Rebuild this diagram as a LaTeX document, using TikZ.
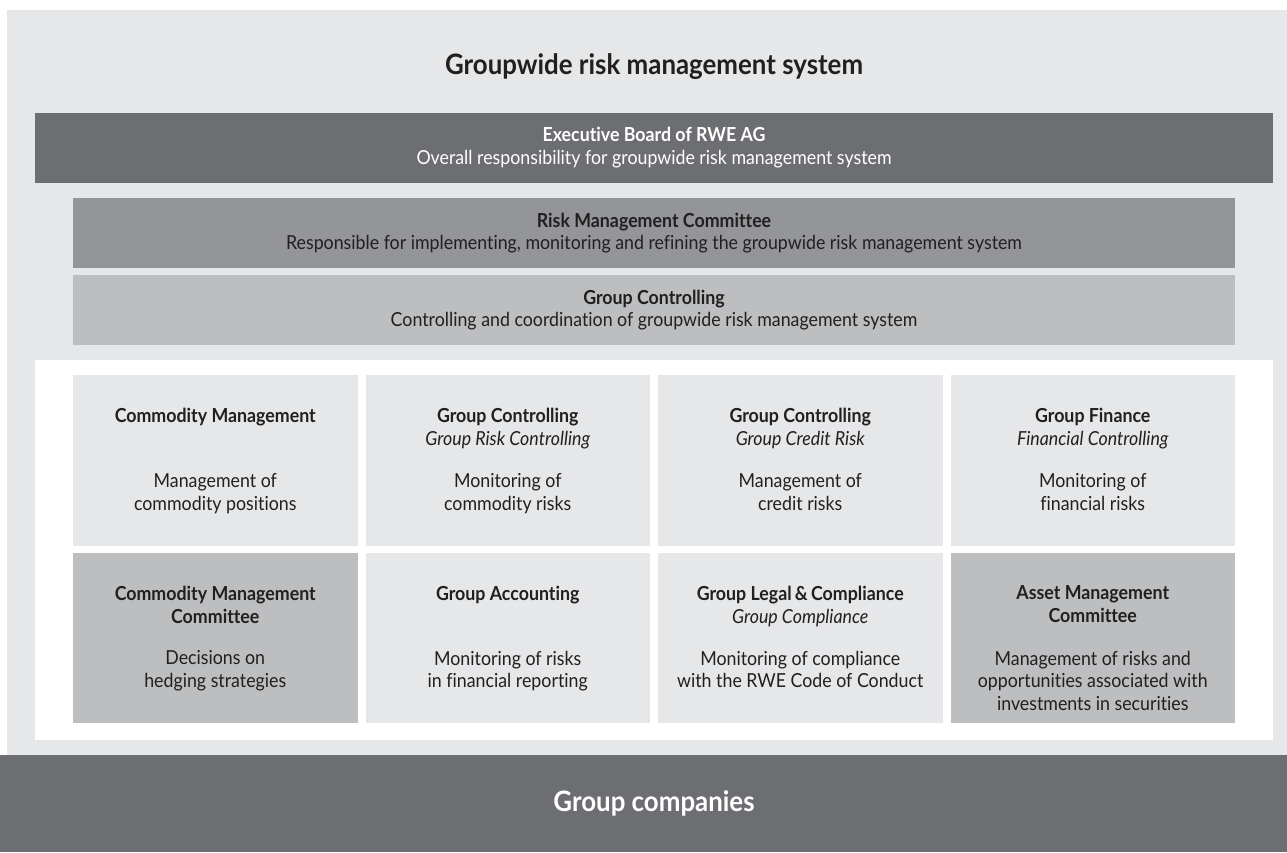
\documentclass[tikz,border=0pt]{standalone}
\usepackage{fontspec}
\setmainfont{Lato}[FakeStretch=0.92, Ligatures=NoCommon]
\usepackage{tikz}

\definecolor{bglight}{HTML}{E6E7E8}
\definecolor{bgdark}{HTML}{6D6E71}
\definecolor{bgmid}{HTML}{939598}
\definecolor{bgpale}{HTML}{BCBEC0}
\definecolor{ink}{HTML}{231F20}

\tikzset{
  bartext/.style={align=center, inner sep=0pt, text=ink, font=\fontsize{11}{13}\selectfont},
  cellhead/.style={align=center, anchor=north, inner sep=0pt, text=ink, font=\fontsize{11}{13}\selectfont\bfseries},
  celldesc/.style={align=center, anchor=north, inner sep=0pt, text=ink, font=\fontsize{11}{13}\selectfont},
}

% one box of the grid: x, y (top left), fill, name, heading, description
\newcommand{\riskcell}[6]{%
  \fill[#3] (#1,#2) rectangle ++(284.5,170.5);
  \path (#1,#2) ++(142.25,33) node[cellhead] (#4-head) {#5};
  \path (#1,#2) ++(142.25,98) node[celldesc] (#4-desc) {#6};
}

\begin{document}
\begin{tikzpicture}[x=0.02cm, y=-0.02cm]
  \useasboundingbox (0,0) rectangle (1287,852);

  % background
  \fill[bglight] (7,10) rectangle (1287,755);
  \node[bartext, font=\fontsize{16}{19}\selectfont\bfseries] (title) at (654,67) {Groupwide risk management system};

  % Bar 1
  \fill[bgdark] (35,113) rectangle (1273,183);
  \node[bartext, text=white] (exec) at (654,148) {\textbf{Executive Board of RWE AG}\\Overall responsibility for groupwide risk management system};

  % Bar 2
  \fill[bgmid] (73,198) rectangle (1235,268);
  \node[bartext] (rmc) at (654,233) {\textbf{Risk Management Committee}\\Responsible for implementing, monitoring and refining the groupwide risk management system};

  % Bar 3
  \fill[bgpale] (73,275) rectangle (1235,345);
  \node[bartext] (gc) at (654,310) {\textbf{Group Controlling}\\Controlling and coordination of groupwide risk management system};

  % grid
  \fill[white] (35,360) rectangle (1273,740);

  \riskcell{73}{375}{bglight}{cm}{Commodity Management}{Management of\\commodity positions}
  \riskcell{365.5}{375}{bglight}{grc}{Group Controlling\\\normalfont\itshape Group Risk Controlling}{Monitoring of\\commodity risks}
  \riskcell{658}{375}{bglight}{gcr}{Group Controlling\\\normalfont\itshape Group Credit Risk}{Management of\\credit risks}
  \riskcell{950.5}{375}{bglight}{gf}{Group Finance\\\normalfont\itshape Financial Controlling}{Monitoring of\\financial risks}

  \riskcell{73}{552.5}{bgpale}{cmc}{Commodity Management\\Committee}{Decisions on\\hedging strategies}
  \riskcell{365.5}{552.5}{bglight}{ga}{Group Accounting}{Monitoring of risks\\in financial reporting}
  \riskcell{658}{552.5}{bglight}{glc}{Group Legal\,\&\,Compliance\\\normalfont\itshape Group Compliance}{Monitoring of compliance\\with the RWE Code of Conduct}
  \riskcell{950.5}{552.5}{bgpale}{amc}{Asset Management\\Committee}{Management of risks and\\opportunities associated with\\investments in securities}

  % Bar 4
  \fill[bgdark] (0,755) rectangle (1287,852);
  \node[bartext, text=white, font=\fontsize{16}{19}\selectfont\bfseries] (companies) at (654,803) {Group companies};
\end{tikzpicture}
\end{document}
